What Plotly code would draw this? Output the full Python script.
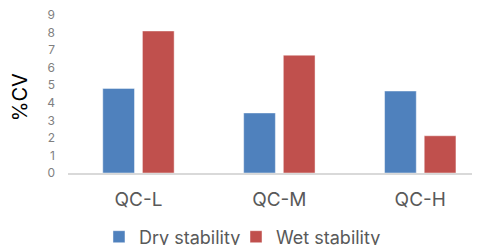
import plotly.graph_objects as go

categories = ["QC-L", "QC-M", "QC-H"]
dry_stability = [4.82, 3.42, 4.67]
wet_stability = [8.09, 6.71, 2.12]
y_ticks = list(range(0, 10))

FONT = "Inter"
# the page body has an 8px margin, so the figure is 8px smaller and margins shifted
fig = go.Figure()
fig.add_trace(go.Bar(name="Dry stability", x=categories, y=dry_stability, legend="legend",
                     marker=dict(color="#4F81BD", line=dict(color="rgba(255,255,255,0.45)", width=1))))
fig.add_trace(go.Bar(name="Wet stability", x=categories, y=wet_stability, legend="legend2",
                     marker=dict(color="#C0504D", line=dict(color="rgba(255,255,255,0.45)", width=1))))

legend_style = dict(orientation="h", xanchor="left", y=-0.405, yanchor="middle",
                    font=dict(size=18, color="#595959"), itemwidth=30, bgcolor="rgba(0,0,0,0)")

fig.update_layout(
    width=472, height=237,
    margin=dict(l=60, r=0, t=7, b=72, pad=0, autoexpand=False),
    paper_bgcolor="white", plot_bgcolor="white",
    barmode="group", bargap=0.437, bargroupgap=0.2,
    font=dict(family=FONT, color="#595959"),
    xaxis=dict(range=[-0.5, 2.424], showline=True, linecolor="#D9D9D9", linewidth=2,
               ticks="", tickfont=dict(size=19, color="#595959"), ticklabelstandoff=8,
               showgrid=False, zeroline=False, automargin=False),
    yaxis=dict(range=[0, 9], tickvals=y_ticks, showgrid=False, zeroline=False, showline=False,
               ticks="", tickfont=dict(size=12, color="#7F7F7F"), ticklabelstandoff=12,
               ticklabeloverflow="allow", automargin=False),
    legend=dict(x=0.0752, **legend_style),
    legend2=dict(x=0.4078, **legend_style),
    showlegend=True,
    annotations=[dict(text="%CV", textangle=-90, x=-0.1165, y=0.48, xref="paper", yref="paper",
                      showarrow=False, font=dict(size=20, color="#000000"), xanchor="center", yanchor="middle")],
)

fig.write_html("out.html")
